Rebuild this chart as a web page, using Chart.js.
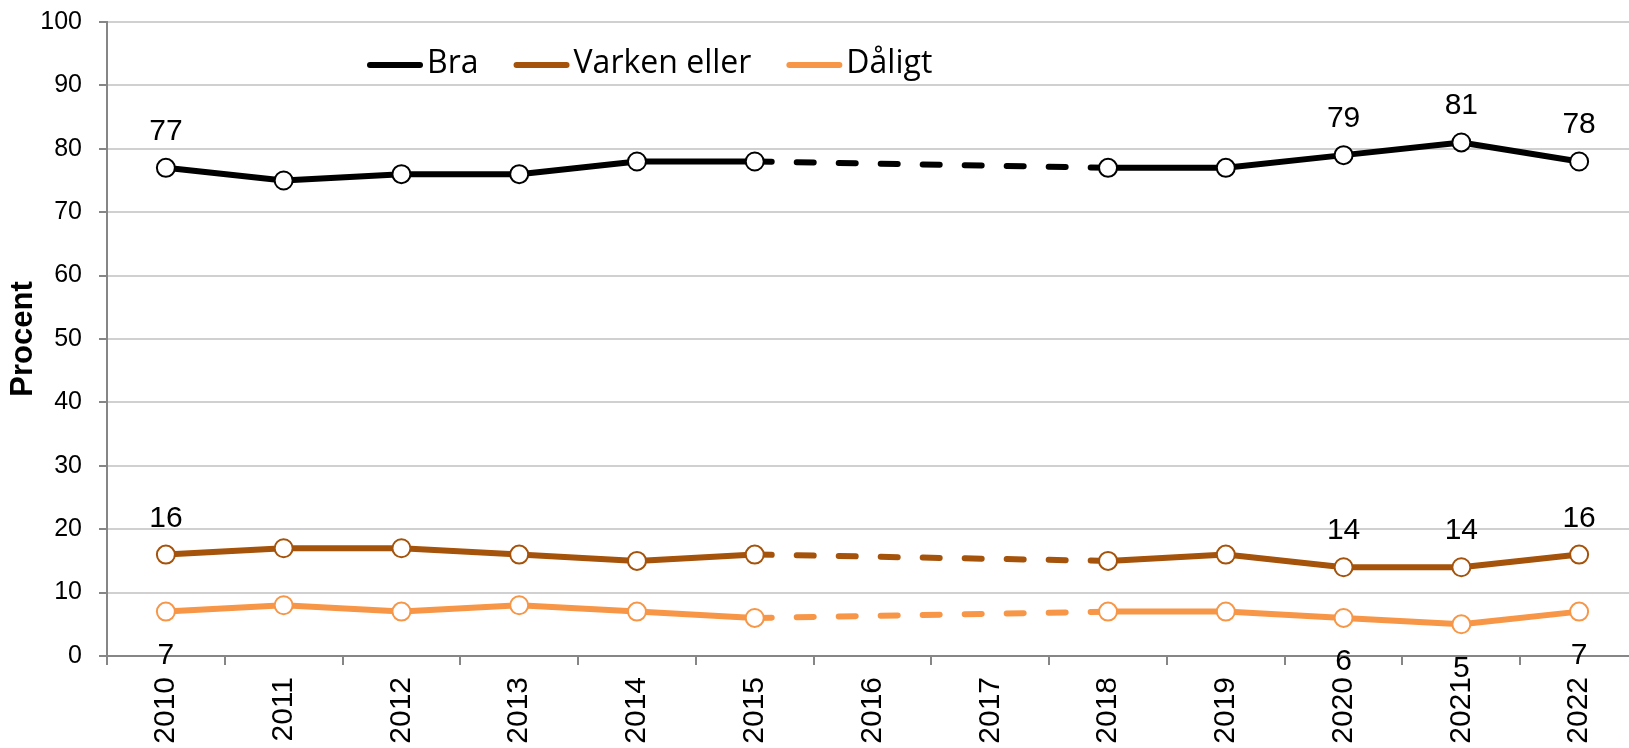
<!DOCTYPE html>
<html>
<head>
<meta charset="utf-8">
<script src="https://cdn.jsdelivr.net/npm/chart.js@4"></script>
<style>
    html, body { margin: 0; padding: 0; background: #fff; overflow: hidden; }
    #wrap { position: relative; width: 1640px; height: 748px; }
</style>
</head>
<body>
<div id="wrap"><canvas id="chart"></canvas></div>
<script>
// --- Data ---
const years = ['2010', '2011', '2012', '2013', '2014', '2015', '2016', '2017', '2018', '2019', '2020', '2021', '2022'];
const bra = [77, 75, 76, 76, 78, 78, null, null, 77, 77, 79, 81, 78];
const varken = [16, 17, 17, 16, 15, 16, null, null, 15, 16, 14, 14, 16];
const daligt = [7, 8, 7, 8, 7, 6, null, null, 7, 7, 6, 5, 7];
const labelledYears = ['2010', '2020', '2021', '2022']; // years that carry a value label
const yMin = 0, yMax = 100, yStep = 10;

const AXIS_GREY = '#868686';
const GRID_GREY = '#d0d0d0';
const ARIAL = '"Liberation Sans", Arial, sans-serif';

// dashed across the missing years (2016, 2017)
const gapDash = ctx => (ctx.p0.skip || ctx.p1.skip ? [17, 25] : undefined);

function series(label, data, color, labelPos) {
    return {
        label: label,
        data: data,
        borderColor: color,
        backgroundColor: color,
        borderWidth: 6,
        borderCapStyle: 'round',
        borderJoinStyle: 'round',
        pointRadius: 9,
        pointBorderWidth: 2,
        pointBackgroundColor: '#ffffff',
        pointBorderColor: color,
        spanGaps: true,
        tension: 0,
        labelPos: labelPos,
        segment: { borderDash: gapDash }
    };
}

// value labels above / below selected points
const valueLabels = {
    id: 'valueLabels',
    afterDatasetsDraw(chart) {
        const ctx = chart.ctx;
        ctx.save();
        ctx.font = '30px ' + ARIAL;
        ctx.fillStyle = '#000';
        ctx.textAlign = 'center';
        chart.data.datasets.forEach((ds, i) => {
            const meta = chart.getDatasetMeta(i);
            ds.data.forEach((v, j) => {
                if (v === null || !labelledYears.includes(years[j])) return;
                const pt = meta.data[j];
                if (ds.labelPos === 'below') {
                    ctx.textBaseline = 'top';
                    ctx.fillText(String(v), pt.x, pt.y + 29);
                } else {
                    ctx.textBaseline = 'alphabetic';
                    ctx.fillText(String(v), pt.x, pt.y - 28);
                }
            });
        });
        ctx.restore();
    }
};

// legend drawn inside the plot area, on one row
const insideLegend = {
    id: 'insideLegend',
    afterDraw(chart) {
        const ctx = chart.ctx;
        let x = chart.chartArea.left + 260;
        const y = 65;
        ctx.save();
        ctx.font = '32px "Open Sans", sans-serif';
        ctx.textBaseline = 'middle';
        ctx.textAlign = 'left';
        chart.data.datasets.forEach(ds => {
            ctx.strokeStyle = ds.borderColor;
            ctx.lineWidth = 6;
            ctx.lineCap = 'round';
            ctx.beginPath();
            ctx.moveTo(x + 3, y);
            ctx.lineTo(x + 53, y);
            ctx.stroke();
            ctx.fillStyle = '#000';
            ctx.fillText(ds.label, x + 60, y - 1);
            x += 60 + ctx.measureText(ds.label).width + 35;
        });
        ctx.restore();
    }
};

new Chart(document.getElementById('chart'), {
    type: 'line',
    data: {
        labels: years,
        datasets: [
            series('Bra', bra, '#000000', 'above'),
            series('Varken eller', varken, '#a5520a', 'above'),
            series('Dåligt', daligt, '#f79646', 'below')
        ]
    },
    options: {
        responsive: true,
        maintainAspectRatio: false,
        devicePixelRatio: 1,
        animation: false,
        events: [],
        // plot runs a little past the right edge of the picture, as in the original
        layout: { autoPadding: false, padding: { top: 22, right: 2, bottom: 0, left: 0 } },
        plugins: {
            legend: { display: false },
            tooltip: { enabled: false }
        },
        scales: {
            x: {
                offset: true,
                afterFit: s => { s.height = 92; },
                grid: {
                    offset: true,
                    drawOnChartArea: false,
                    drawTicks: true,
                    tickLength: 9,
                    tickColor: AXIS_GREY,
                    lineWidth: 2
                },
                border: { color: AXIS_GREY, width: 2 },
                ticks: {
                    minRotation: 90,
                    maxRotation: 90,
                    autoSkip: false,
                    padding: 12,
                    color: '#000',
                    font: { family: ARIAL, size: 30 }
                }
            },
            y: {
                min: yMin,
                max: yMax,
                // fixed axis width; tick padding would otherwise push the plot down
                afterFit: s => { s.width = 107; s.paddingTop = 0; s.paddingBottom = 0; },
                grid: {
                    color: GRID_GREY,
                    lineWidth: 2,
                    tickColor: AXIS_GREY,
                    tickLength: 8
                },
                border: { color: AXIS_GREY, width: 2 },
                ticks: {
                    stepSize: yStep,
                    padding: 17,
                    color: '#000',
                    font: { family: ARIAL, size: 25 }
                },
                title: {
                    display: true,
                    text: 'Procent',
                    color: '#000',
                    padding: { top: 5, bottom: 0 },
                    font: { family: ARIAL, size: 31, weight: 'bold' }
                }
            }
        }
    },
    plugins: [valueLabels, insideLegend]
});
</script>
</body>
</html>
